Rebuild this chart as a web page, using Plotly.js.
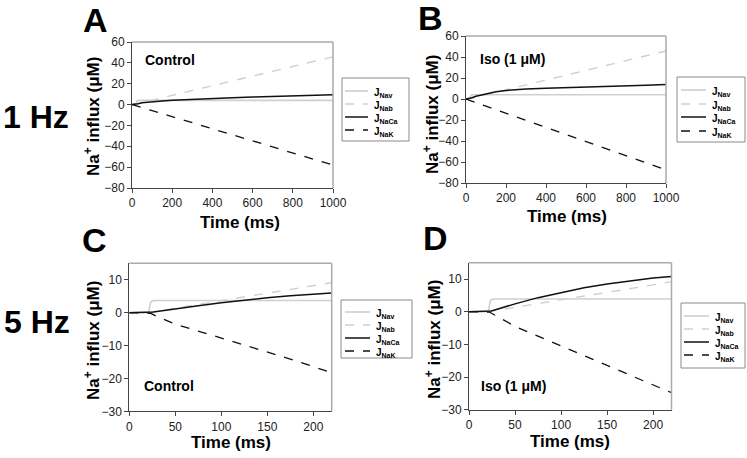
<!DOCTYPE html>
<html>
<head>
<meta charset="utf-8">
<script src="https://cdn.plot.ly/plotly-3.0.1.min.js"></script>
<style>html,body{margin:0;padding:0;background:#fff;}#chart{width:747px;height:458px;}</style>
</head>
<body>
<div id="chart"></div>
<script>
// ---- Data ----
var seriesNames = ["J<sub>Nav</sub>", "J<sub>Nab</sub>", "J<sub>NaCa</sub>", "J<sub>NaK</sub>"];

// 1 Hz panels (time in ms)
var t1Hz = [0, 20, 25, 30, 50, 100, 150, 200, 250, 300, 400, 500, 600, 700, 800, 900, 1000];
var A_Nav  = [0, 0, 3.5, 4, 4, 4, 4, 4, 4, 4, 4, 4, 4, 4, 4, 4, 4];
var A_Nab  = [0, 0.3, 0.6, 0.9, 1.9, 4.2, 6.6, 8.9, 11.2, 13.5, 18.2, 22.8, 27.4, 32.0, 36.6, 41.2, 45.8];
var A_NaCa = [0, 0.2, 0.5, 0.8, 1.7, 2.8, 3.5, 4.1, 4.6, 5.0, 5.8, 6.5, 7.2, 7.8, 8.4, 9.0, 9.5];
var A_NaK  = [0, -1.0, -1.4, -1.7, -2.9, -5.8, -8.7, -11.6, -14.5, -17.4, -23.2, -29.0, -34.8, -40.6, -46.4, -52.2, -58.0];

var B_Nav  = [0, 0, 3.5, 4, 4, 4, 4, 4, 4, 4, 4, 4, 4, 4, 4, 4, 4];
var B_Nab  = [0, 0.3, 0.6, 0.9, 1.9, 4.2, 6.6, 8.9, 11.2, 13.5, 18.2, 22.8, 27.4, 32.0, 36.6, 41.2, 45.8];
var B_NaCa = [0, 0.4, 0.8, 1.2, 2.6, 5.0, 6.9, 8.1, 8.9, 9.5, 10.3, 11.0, 11.6, 12.2, 12.7, 13.2, 13.7];
var B_NaK  = [0, -1.2, -1.6, -2.0, -3.4, -6.8, -10.2, -13.6, -17.0, -20.4, -27.2, -34.0, -40.7, -47.4, -54.1, -60.8, -67.5];

// 5 Hz panels (time in ms)
var t5Hz = [0, 21, 21.5, 22, 23, 24, 26, 30, 50, 75, 100, 125, 150, 175, 200, 220];
var C_Nav  = [0, 0, 0.8, 2.0, 3.0, 3.4, 3.65, 3.7, 3.7, 3.7, 3.7, 3.7, 3.7, 3.7, 3.7, 3.7];
var C_Nab  = [0, 0, 0.02, 0.05, 0.1, 0.15, 0.25, 0.4, 1.3, 2.5, 3.6, 4.8, 5.9, 7.0, 8.2, 9.1];
var C_NaCa = [0, 0, 0.02, 0.04, 0.08, 0.12, 0.2, 0.35, 1.2, 2.1, 3.0, 3.8, 4.5, 5.1, 5.6, 6.0];
var C_NaK  = [0, 0, -0.05, -0.1, -0.2, -0.3, -0.6, -1.2, -3.5, -5.6, -7.6, -9.7, -11.9, -14.1, -16.4, -18.3];

var D_Nav  = [0, 0, 0.8, 2.1, 3.2, 3.6, 3.85, 3.9, 3.9, 3.9, 3.9, 3.9, 3.9, 3.9, 3.9, 3.9];
var D_Nab  = [0, 0, 0.02, 0.05, 0.1, 0.15, 0.25, 0.4, 1.3, 2.5, 3.6, 4.8, 5.9, 7.0, 8.2, 9.2];
var D_NaCa = [0, 0, 0.03, 0.06, 0.12, 0.2, 0.35, 0.7, 2.4, 4.3, 5.9, 7.3, 8.5, 9.5, 10.3, 10.8];
var D_NaK  = [0, 0, -0.05, -0.1, -0.25, -0.4, -0.8, -1.4, -4.5, -7.5, -10.5, -13.5, -16.5, -19.6, -22.6, -24.8];

var xTicks1Hz = [0, 200, 400, 600, 800, 1000];
var yTicks1Hz = [-80, -60, -40, -20, 0, 20, 40, 60];
var xTicks5Hz = [0, 50, 100, 150, 200];
var yTicks5Hz = [-30, -20, -10, 0, 10];

// ---- Styling ----
var W = 747, H = 458;
function px(x) { return x / W; }
function py(y) { return 1 - y / H; }
var FONT = "Liberation Sans, Arial, Helvetica, sans-serif";
var styles = [
  {color: "#cfcfcf", dash: "solid", width: 1.6},
  {color: "#cfcfcf", dash: "dash", width: 1.4},
  {color: "#111111", dash: "solid", width: 1.5},
  {color: "#111111", dash: "dash", width: 1.3}
];

var panels = [
  {t: t1Hz, ys: [A_Nav, A_Nab, A_NaCa, A_NaK], xa: "x", ya: "y"},
  {t: t1Hz, ys: [B_Nav, B_Nab, B_NaCa, B_NaK], xa: "x2", ya: "y2"},
  {t: t5Hz, ys: [C_Nav, C_Nab, C_NaCa, C_NaK], xa: "x3", ya: "y3"},
  {t: t5Hz, ys: [D_Nav, D_Nab, D_NaCa, D_NaK], xa: "x4", ya: "y4"}
];

var traces = [];
panels.forEach(function (p) {
  p.ys.forEach(function (y, i) {
    traces.push({
      type: "scatter", mode: "lines", x: p.t, y: y,
      name: seriesNames[i], xaxis: p.xa, yaxis: p.ya, showlegend: false,
      line: {color: styles[i].color, dash: styles[i].dash, width: styles[i].width, shape: "linear"},
      hoverinfo: "skip"
    });
  });
});

function xAxis(dom, range, ticks, anchor) {
  return {
    domain: [px(dom[0]), px(dom[1])], range: range, anchor: anchor,
    tickmode: "array", tickvals: ticks, ticks: "outside", ticklen: 4, tickcolor: "#444",
    showline: true, linecolor: "#444", linewidth: 1, showgrid: false, zeroline: false,
    tickfont: {family: FONT, size: 12, color: "#222"}, fixedrange: true
  };
}
function yAxis(dom, range, ticks, anchor) {
  return {
    domain: [py(dom[1]), py(dom[0])], range: range, anchor: anchor,
    tickmode: "array", tickvals: ticks, ticks: "outside", ticklen: 4, tickcolor: "#444",
    showline: true, linecolor: "#444", linewidth: 1, showgrid: false, zeroline: false,
    tickfont: {family: FONT, size: 12, color: "#222"}, fixedrange: true
  };
}

var shapes = [];
["", "2", "3", "4"].forEach(function (s) {
  var xr = "x" + s + " domain", yr = "y" + s + " domain";
  shapes.push({type: "line", xref: xr, yref: yr, x0: 0, x1: 1, y0: 1, y1: 1, line: {color: "#aaaaaa", width: 1.5}});
  shapes.push({type: "line", xref: xr, yref: yr, x0: 1, x1: 1, y0: 0, y1: 1, line: {color: "#aaaaaa", width: 1.5}});
});

var ann = [];
function A(text, x, y, size, opts) {
  var a = {text: text, x: px(x), y: py(y), xref: "paper", yref: "paper", showarrow: false,
    xanchor: "center", yanchor: "middle", font: {family: FONT, size: size, color: "#000"}};
  for (var k in (opts || {})) a[k] = opts[k];
  ann.push(a);
}

// Legend boxes (one per panel): box [x0,x1,y0,y1], sample line x-range, text x, row y's
var legends = [
  {box: [342, 409, 78, 141], lx: [345, 368], tx: 372, rows: [91, 104, 117, 130]},
  {box: [677, 745, 77, 142], lx: [681, 706], tx: 710, rows: [90, 104, 117, 131]},
  {box: [341, 412, 300, 358], lx: [345, 370], tx: 374, rows: [312, 325, 338, 351]},
  {box: [681, 745, 303, 368], lx: [684, 709], tx: 713, rows: [316, 329, 342, 355]}
];
legends.forEach(function (L) {
  shapes.push({type: "rect", xref: "paper", yref: "paper",
    x0: px(L.box[0]), x1: px(L.box[1]), y0: py(L.box[3]), y1: py(L.box[2]),
    line: {color: "#8a8a8a", width: 1}, fillcolor: "#ffffff", layer: "above"});
  L.rows.forEach(function (ry, i) {
    shapes.push({type: "line", xref: "paper", yref: "paper",
      x0: px(L.lx[0]), x1: px(L.lx[1]), y0: py(ry), y1: py(ry),
      line: {color: styles[i].color, dash: styles[i].dash, width: styles[i].width}, layer: "above"});
    A("<b>" + seriesNames[i] + "</b>", L.tx, ry + 2, 10, {xanchor: "left"});
  });
});

// panel letters and frequency labels
A("<b>A</b>", 95, 20, 34);
A("<b>B</b>", 431, 18, 34);
A("<b>C</b>", 94, 240, 34);
A("<b>D</b>", 435, 238, 34);
A("<b>1 Hz</b>", 36, 117, 32);
A("<b>5 Hz</b>", 37, 322, 32);
// axis titles
var yTitle = "<b>Na<sup>+</sup> influx (μM)</b>";
A("<b>Time (ms)</b>", 240, 222, 17);
A("<b>Time (ms)</b>", 567, 217, 17);
A("<b>Time (ms)</b>", 231, 442, 17);
A("<b>Time (ms)</b>", 570, 441, 17);
A(yTitle, 92, 117, 17, {textangle: -90});
A(yTitle, 431, 114, 17, {textangle: -90});
A(yTitle, 92, 341, 17, {textangle: -90});
A(yTitle, 433, 340, 17, {textangle: -90});
// condition labels
A("<b>Control</b>", 170, 60, 14);
A("<b>Iso (1 μM)</b>", 512, 59, 14);
A("<b>Control</b>", 169, 386, 14);
A("<b>Iso (1 μM)</b>", 513, 386, 14);

var layout = {
  width: W, height: H, margin: {l: 0, r: 0, t: 0, b: 0},
  paper_bgcolor: "#fff", plot_bgcolor: "#fff", showlegend: false,
  font: {family: FONT, color: "#000"},
  xaxis:  xAxis([132, 333], [0, 1000], xTicks1Hz, "y"),
  yaxis:  yAxis([42, 188], [-80, 60], yTicks1Hz, "x"),
  xaxis2: xAxis([466, 666], [0, 1000], xTicks1Hz, "y2"),
  yaxis2: yAxis([36, 183], [-80, 60], yTicks1Hz, "x2"),
  xaxis3: xAxis([129.3, 331.7], [0, 220], xTicks5Hz, "y3"),
  yaxis3: yAxis([263.3, 411.3], [-30, 15], yTicks5Hz, "x3"),
  xaxis4: xAxis([469, 671.5], [0, 220], xTicks5Hz, "y4"),
  yaxis4: yAxis([262.7, 409.7], [-30, 15], yTicks5Hz, "x4"),
  shapes: shapes,
  annotations: ann
};

Plotly.newPlot("chart", traces, layout, {staticPlot: true, displayModeBar: false});
</script>
</body>
</html>
